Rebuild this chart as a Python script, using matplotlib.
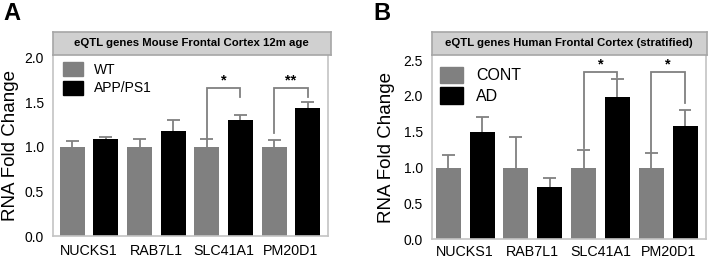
import matplotlib
matplotlib.use("Agg")
import matplotlib.pyplot as plt
from matplotlib.patches import Patch
import numpy as np

plt.rcParams["font.family"] = ["Liberation Sans", "DejaVu Sans"]

GENES = ["NUCKS1", "RAB7L1", "SLC41A1", "PM20D1"]

# Panel A: mouse frontal cortex
A_WT = [1.00, 1.00, 1.00, 1.00]
A_WT_ERR = [0.07, 0.09, 0.09, 0.075]
A_APP = [1.09, 1.18, 1.30, 1.43]
A_APP_ERR = [0.02, 0.12, 0.06, 0.07]
A_SIG_GENE = [2, 3]
A_SIG_TOP = [1.66, 1.66]
A_SIG_LEFT = [1.10, 1.16]
A_SIG_RIGHT = [1.56, 1.56]
A_SIG_TXT = ["*", "**"]

# Panel B: human frontal cortex
B_CONT = [1.00, 1.00, 1.00, 1.00]
B_CONT_ERR = [0.18, 0.43, 0.25, 0.20]
B_AD = [1.49, 0.73, 1.98, 1.58]
B_AD_ERR = [0.21, 0.12, 0.26, 0.23]
B_SIG_GENE = [2, 3]
B_SIG_TOP = [2.33, 2.33]
B_SIG_LEFT = [1.27, 1.22]
B_SIG_RIGHT = [2.27, 1.90]
B_SIG_TXT = ["*", "*"]

GREY = "#808080"
FRAME = "#c4c4c4"


def upper_err(ax, x, y, err, cap=0.19):
    # one-sided (upward) error bars, cap only on top
    y = np.asarray(y)
    top = y + np.asarray(err)
    ax.vlines(x, y, top, color=GREY, lw=1.3, zorder=1)
    ax.hlines(top, x - cap, x + cap, color=GREY, lw=1.3, zorder=1)


def panel(fig, rect, hrect, title, ctrl, ctrl_err, case, case_err, labels,
          sig_gene, sig_top, sig_left, sig_right, sig_txt,
          ylim, yticks, xlim, leg_anchor, leg_fs, ylabel_x, xpad):
    ax = fig.add_axes(rect)
    n = len(GENES)
    xc = np.arange(n) * 2
    xk = xc + 1
    w = 0.74
    upper_err(ax, xc, ctrl, ctrl_err)
    upper_err(ax, xk, case, case_err)
    ax.bar(xc, ctrl, w, color=GREY, zorder=2)
    ax.bar(xk, case, w, color="black", zorder=2)
    for g, top, lb, rb, t in zip(sig_gene, sig_top, sig_left, sig_right, sig_txt):
        x0, x1 = xc[g], xk[g]
        ax.plot([x0, x0, x1, x1], [lb, top, top, rb], color=GREY, lw=1.3,
                zorder=3, solid_joinstyle="miter")
        ax.text((x0 + x1) / 2, top + 0.005 * (ylim[1]), t, ha="center",
                va="bottom", fontsize=10.5, fontweight="bold")
    ax.set_xlim(*xlim)
    ax.set_ylim(*ylim)
    ax.set_yticks(yticks)
    ax.set_yticklabels([f"{v:.1f}" for v in yticks])
    ax.set_xticks(xc + 0.5)
    ax.set_xticklabels(GENES)
    ax.tick_params(length=0)
    ax.tick_params(axis="y", pad=6.5, labelsize=10)
    ax.tick_params(axis="x", pad=xpad, labelsize=10.3)
    for s in ax.spines.values():
        s.set_color(FRAME)
        s.set_linewidth(1.2)
    ax.spines["top"].set_visible(False)
    ax.set_ylabel("RNA Fold Change", fontsize=13.5)
    ax.yaxis.set_label_coords(ylabel_x, 0.5)
    handles = [Patch(color=GREY, label=labels[0]),
               Patch(color="black", label=labels[1])]
    ax.legend(handles=handles, loc="upper left", bbox_to_anchor=leg_anchor,
              frameon=False, fontsize=leg_fs, borderpad=0, borderaxespad=0,
              handlelength=1.45, handleheight=1.2, handletextpad=0.8,
              labelspacing=0.25)

    hx = fig.add_axes(hrect)
    hx.set_facecolor("#d0d0d0")
    hx.set_xticks([])
    hx.set_yticks([])
    for s in hx.spines.values():
        s.set_color("#a6a6a6")
        s.set_linewidth(1.2)
    hx.text(0.5, 0.5, title, ha="center", va="center", fontsize=8.2,
            fontweight="bold", transform=hx.transAxes)
    return ax


W, H = 709, 260
fig = plt.figure(figsize=(W / 100, H / 100), dpi=100)
fig.patch.set_facecolor("white")

panel(fig, [52.7 / W, 1 - 236 / H, 275.3 / W, 181 / H],
      [52.7 / W, 1 - 55 / H, 278.3 / W, 23.3 / H],
      "eQTL genes Mouse Frontal Cortex 12m age",
      A_WT, A_WT_ERR, A_APP, A_APP_ERR, ["WT", "APP/PS1"],
      A_SIG_GENE, A_SIG_TOP, A_SIG_LEFT, A_SIG_RIGHT, A_SIG_TXT,
      (0, 2.03), [0, 0.5, 1.0, 1.5, 2.0], (-0.58, 7.6),
      (0.036, 0.96), 10, -0.122, 6)

panel(fig, [431.7 / W, 1 - 239.3 / H, 274.3 / W, 184.3 / H],
      [431.7 / W, 1 - 55 / H, 275.3 / W, 23.3 / H],
      "eQTL genes Human Frontal Cortex (stratified)",
      B_CONT, B_CONT_ERR, B_AD, B_AD_ERR, ["CONT", "AD"],
      B_SIG_GENE, B_SIG_TOP, B_SIG_LEFT, B_SIG_RIGHT, B_SIG_TXT,
      (0, 2.57), [0, 0.5, 1.0, 1.5, 2.0, 2.5], (-0.49, 7.62),
      (0.03, 0.937), 11.5, -0.134, 4)

fig.text(3 / W, 1 - 20 / H, "A", fontsize=17, fontweight="bold", va="baseline")
fig.text(373 / W, 1 - 20 / H, "B", fontsize=17, fontweight="bold", va="baseline")

fig.savefig("out.png", dpi=100, facecolor=fig.get_facecolor())
